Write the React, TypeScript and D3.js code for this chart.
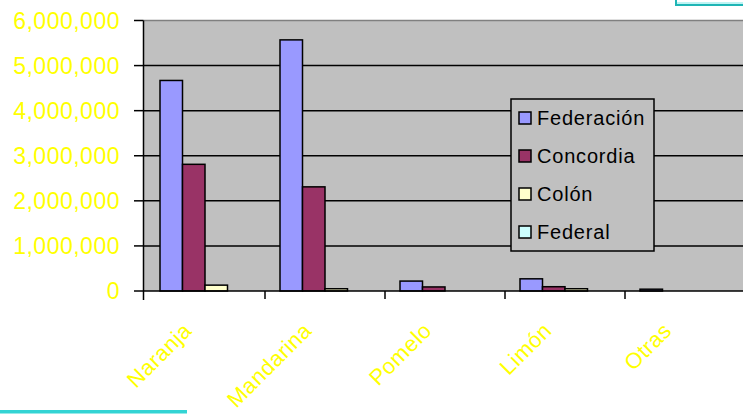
import * as d3 from "d3";
import React from "react";

const categories = ["Naranja", "Mandarina", "Pomelo", "Limón", "Otras"];
const seriesNames = ["Federación", "Concordia", "Colón", "Federal"];
const federacion = [4670000, 5570000, 220000, 270000, 40000];
const concordia = [2810000, 2310000, 90000, 95000, 0];
const colon = [130000, 50000, 0, 50000, 0];
const federal = [0, 0, 0, 0, 0];
const yTickValues = [0, 1000000, 2000000, 3000000, 4000000, 5000000, 6000000];

const seriesColors = ["#9999FF", "#993366", "#FFFFCC", "#CCFFFF"];

export default function App() {
  const width = 743;
  const height = 415;
  const plotLeft = 143.5;
  const plotTop = 20.5;
  const zeroY = 291;

  const values = [federacion, concordia, colon, federal];

  const yScale = d3.scaleLinear([0, 6000000], [zeroY, plotTop]);
  const x0 = d3.scaleBand(categories, [145, 745]).padding(0);
  const x1 = d3
    .scaleBand(seriesNames, [15, x0.bandwidth() - 15])
    .padding(0);

  const fmt = d3.format(",");
  const font = "'Liberation Sans', Arial, sans-serif";

  return (
    <svg
      width={width}
      height={height}
      style={{ position: "absolute", left: 0, top: 0, background: "#fff" }}
    >
      {/* teal decorations */}
      <rect x={676} y={-4} width={70} height={9} fill="#fff" stroke="#1fb5b5" strokeWidth={2} />
      <line x1={677} x2={743} y1={3} y2={3} stroke="#7fe8e8" strokeWidth={1} />
      <rect x={0} y={410} width={187} height={3.5} fill="#33d4d4" />

      {/* plot background */}
      <rect x={plotLeft} y={plotTop} width={width - plotLeft} height={zeroY - plotTop} fill="#C0C0C0" />
      <line x1={plotLeft} x2={width} y1={plotTop} y2={plotTop} stroke="#808080" strokeWidth={1.5} />

      {/* gridlines */}
      {yTickValues
        .filter((v) => v > 0 && v < 6000000)
        .map((v) => (
          <line
            key={v}
            x1={plotLeft}
            x2={width}
            y1={yScale(v)}
            y2={yScale(v)}
            stroke="#000"
            strokeWidth={1.5}
          />
        ))}

      {/* bars */}
      {categories.map((c, i) => (
        <g key={c} transform={`translate(${x0(c)},0)`}>
          {seriesNames.map((s, j) =>
            values[j][i] > 0 ? (
              <rect
                key={s}
                x={x1(s)}
                y={yScale(values[j][i])}
                width={x1.bandwidth()}
                height={zeroY - yScale(values[j][i])}
                fill={seriesColors[j]}
                stroke="#000"
                strokeWidth={1.5}
              />
            ) : null
          )}
        </g>
      ))}

      {/* y axis */}
      <g fontFamily={font} fontSize={23} fill="#FFFF00" textAnchor="end">
        <line x1={plotLeft} x2={plotLeft} y1={plotTop} y2={300} stroke="#000" strokeWidth={1.5} />
        {yTickValues.map((v) => (
          <g key={v} transform={`translate(0,${yScale(v)})`}>
            <line x1={134} x2={plotLeft} stroke="#000" strokeWidth={1.5} />
            <text x={120} dy="0.36em" letterSpacing={0.5}>
              {fmt(v)}
            </text>
          </g>
        ))}
      </g>

      {/* x axis */}
      <line x1={plotLeft} x2={width} y1={zeroY} y2={zeroY} stroke="#000" strokeWidth={1.5} />
      {categories.slice(1).map((c) => (
        <line key={c} x1={x0(c)} x2={x0(c)} y1={zeroY} y2={299} stroke="#000" strokeWidth={1.5} />
      ))}
      <g fontFamily={font} fontSize={22} fill="#FFFF00" textAnchor="end">
        {categories.map((c) => {
          const cx = (x0(c) ?? 0) + x0.bandwidth() / 2 - 12;
          const cy = 332;
          return (
            <text key={c} transform={`translate(${cx},${cy}) rotate(-45)`} letterSpacing={0.5}>
              {c}
            </text>
          );
        })}
      </g>

      {/* legend */}
      <g fontFamily={font} fontSize={20} fill="#000">
        <rect x={511} y={99} width={143} height={152} fill="#C0C0C0" stroke="#000" strokeWidth={1.5} />
        {seriesNames.map((s, j) => {
          const ly = 118 + j * 38;
          return (
            <g key={s} transform={`translate(0,${ly})`}>
              <rect x={519} y={-6} width={12} height={12} fill={seriesColors[j]} stroke="#000" strokeWidth={1.5} />
              <text x={537} dy="0.36em" letterSpacing={0.8}>
                {s}
              </text>
            </g>
          );
        })}
      </g>
    </svg>
  );
}
